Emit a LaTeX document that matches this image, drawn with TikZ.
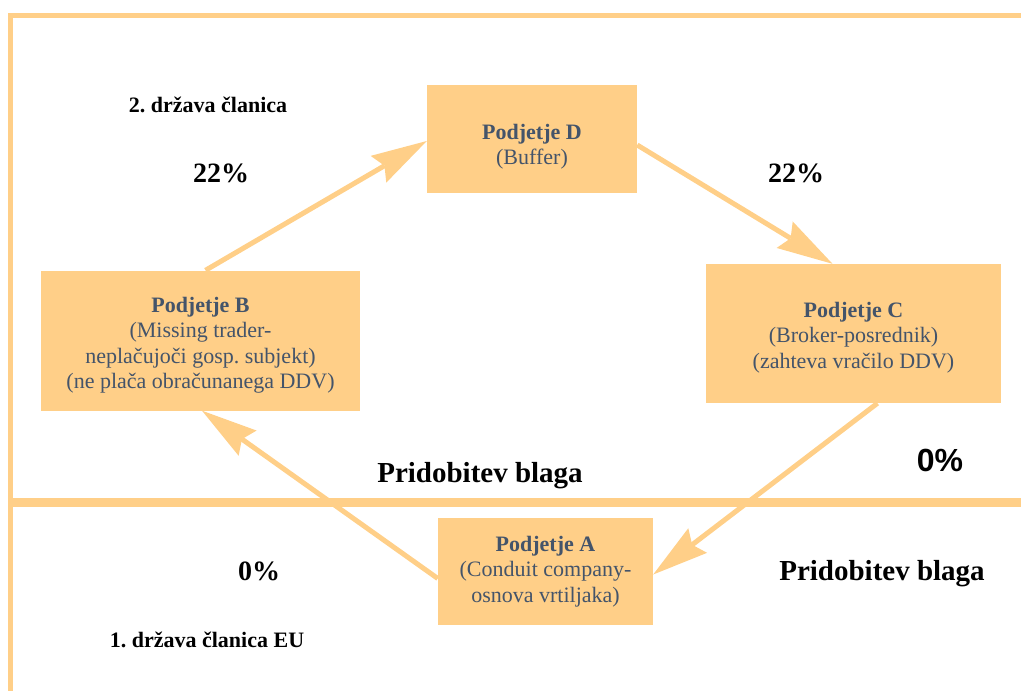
\documentclass[tikz,border=0pt]{standalone}
\usepackage{fontspec}
\setmainfont{Liberation Serif}
\newfontfamily\headsans{Liberation Sans}
\usetikzlibrary{arrows.meta}
\frenchspacing
\definecolor{bandorange}{HTML}{FFCF88}
\definecolor{boxtext}{HTML}{44546A}
% strut that pushes a box's text block down
\newcommand\pushdown[1]{\rule{0pt}{#1}}
\begin{document}
\begin{tikzpicture}[x=1pt,y=-1pt,
  firm/.style={fill=bandorange, draw=none, inner sep=0pt, align=center,
    text=boxtext, font=\fontsize{22}{25.5}\selectfont},
  flow/.style={draw=bandorange, line width=5pt,
    -{Stealth[length=56pt,width=31pt,inset=7pt,line width=0pt]}},
  frame/.style={draw=bandorange, line width=5pt},
  note/.style={anchor=base, font=\bfseries\fontsize{22}{24}\selectfont},
  rate/.style={anchor=base, font=\bfseries\fontsize{28}{30}\selectfont},
  goods/.style={anchor=base, font=\bfseries\fontsize{29}{31}\selectfont}
]
\useasboundingbox (0,0) rectangle (1021,691);

% frame and border between the two member states
\draw[frame, line join=miter] (1021,15.5) -- (10.5,15.5) -- (10.5,691);
\draw[bandorange, line width=9pt] (8,502.5) -- (1021,502.5);

% companies
\node[firm, minimum width=210pt, minimum height=108pt] (D) at (532,139)
  {\pushdown{31pt}\textbf{Podjetje D}\\(Buffer)};
\node[firm, minimum width=319pt, minimum height=140pt] (B) at (200.5,340.5)
  {\pushdown{25pt}\textbf{Podjetje B}\\(Missing trader-\\neplačujoči gosp. subjekt)\\(ne plača obračunanega DDV)};
\node[firm, minimum width=295pt, minimum height=139pt] (C) at (853.5,333.5)
  {\pushdown{23pt}\textbf{Podjetje C}\\(Broker-posrednik)\\(zahteva vračilo DDV)};
\node[firm, minimum width=215pt, minimum height=107pt] (A) at (545.5,571.5)
  {\textbf{Podjetje A}\\(Conduit company-\\osnova vrtiljaka)};

% carousel of supplies
\draw[flow] ([xshift=5pt]B.north) -- ([yshift=-2pt]D.west);
\draw[flow] ([yshift=-6pt]D.east) -- ([xshift=-21pt]C.north);
\draw[flow] ([xshift=24pt]C.south) -- ([yshift=-3pt]A.east);
\draw[flow] ([yshift=-7pt]A.west) -- ([xshift=1.5pt]B.south);

% labels
\node[note] (ms2) at (208,112) {2. država članica};
\node[note] (ms1) at (207,647) {1. država članica EU};
\node[rate] (rBD) at (221,182) {22\%};
\node[rate] (rDC) at (796,182) {22\%};
\node[rate] (rAB) at (259,580) {0\%};
\node[anchor=base, font=\headsans\bfseries\fontsize{32}{34}\selectfont] (rCA) at (940,471) {0\%};
\node[goods] (acqB) at (480,482) {Pridobitev blaga};
\node[goods] (acqA) at (882,580) {Pridobitev blaga};
\end{tikzpicture}
\end{document}
